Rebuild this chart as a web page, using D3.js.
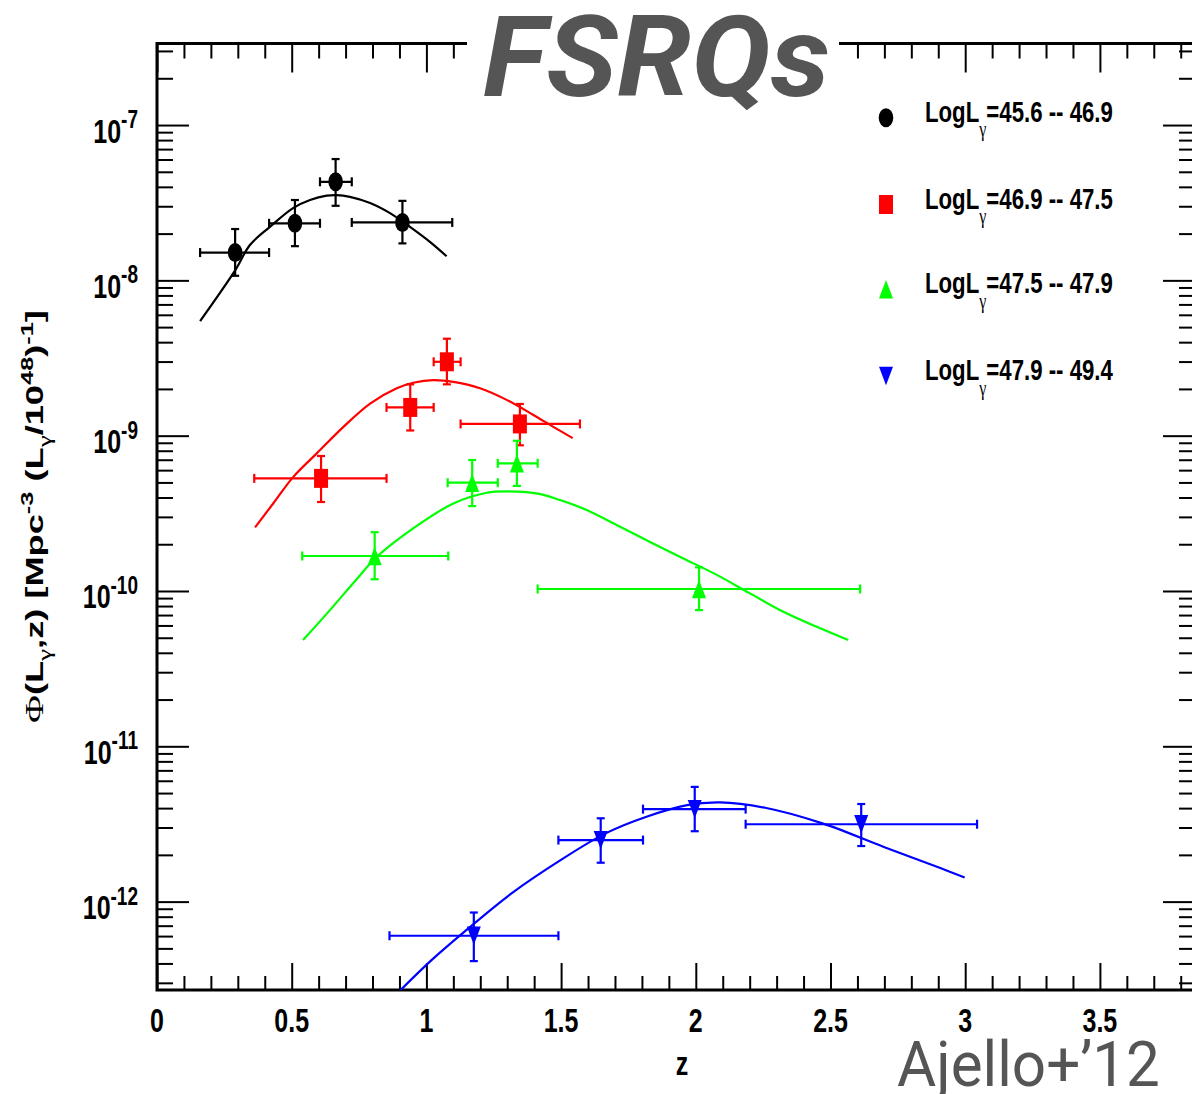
<!DOCTYPE html>
<html><head><meta charset="utf-8">
<script src="https://cdn.jsdelivr.net/npm/d3@7"></script>
<style>
html,body{margin:0;padding:0;background:#fff;overflow:hidden}
svg{display:block}
</style></head><body>
<script>
// FSRQ luminosity function Φ(Lγ, z) versus redshift, in four luminosity bins.

const binLabels  = ["=45.6 -- 46.9", "=46.9 -- 47.5", "=47.5 -- 47.9", "=47.9 -- 49.4"];
const binColors  = ["#000000", "#ff0000", "#00ff00", "#0000ff"];
const binMarkers = ["circle", "square", "triangleUp", "triangleDown"];

// measured bins: [z, zLow, zHigh, Φ, ΦLow, ΦHigh]
const pointsBin1 = [
  [0.290, 0.160, 0.416, 1.51e-8, 1.07e-8, 2.14e-8],
  [0.512, 0.416, 0.605, 2.33e-8, 1.66e-8, 3.29e-8],
  [0.663, 0.605, 0.723, 4.31e-8, 3.02e-8, 6.04e-8],
  [0.911, 0.723, 1.096, 2.36e-8, 1.73e-8, 3.25e-8]
];
const pointsBin2 = [
  [0.609, 0.361, 0.852, 5.31e-10, 3.74e-10, 7.40e-10],
  [0.940, 0.852, 1.027, 1.52e-9, 1.08e-9, 2.14e-9],
  [1.076, 1.027, 1.127, 2.99e-9, 2.14e-9, 4.21e-9],
  [1.347, 1.127, 1.570, 1.19e-9, 8.67e-10, 1.60e-9]
];
const pointsBin3 = [
  [0.808, 0.539, 1.081, 1.68e-10, 1.19e-10, 2.39e-10],
  [1.170, 1.079, 1.265, 4.98e-10, 3.52e-10, 6.97e-10],
  [1.336, 1.265, 1.413, 6.64e-10, 4.75e-10, 9.27e-10],
  [2.012, 1.413, 2.610, 1.03e-10, 7.53e-11, 1.42e-10]
];
const pointsBin4 = [
  [1.176, 0.863, 1.490, 6.03e-13, 4.14e-13, 8.51e-13],
  [1.647, 1.490, 1.804, 2.49e-12, 1.78e-12, 3.44e-12],
  [1.996, 1.804, 2.185, 3.94e-12, 2.84e-12, 5.48e-12],
  [2.614, 2.185, 3.044, 3.15e-12, 2.28e-12, 4.25e-12]
];

// model curves: [z, Φ]
const modelBin1 = [
  [0.160, 5.47e-9], [0.290, 1.16e-8], [0.345, 1.69e-8], [0.419, 2.21e-8],
  [0.505, 2.92e-8], [0.568, 3.29e-8], [0.630, 3.51e-8], [0.667, 3.54e-8],
  [0.716, 3.45e-8], [0.791, 3.15e-8], [0.865, 2.71e-8], [0.939, 2.21e-8],
  [1.013, 1.77e-8], [1.075, 1.43e-8]
];
const modelBin2 = [
  [0.364, 2.57e-10], [0.432, 3.67e-10], [0.506, 5.43e-10], [0.593, 7.69e-10],
  [0.692, 1.14e-9], [0.791, 1.61e-9], [0.890, 2.02e-9], [0.951, 2.19e-9],
  [1.026, 2.28e-9], [1.100, 2.22e-9], [1.199, 2.02e-9], [1.298, 1.70e-9],
  [1.397, 1.36e-9], [1.471, 1.14e-9], [1.543, 9.65e-10]
];
const modelBin3 = [
  [0.542, 4.83e-11], [0.642, 7.53e-11], [0.741, 1.19e-10], [0.816, 1.66e-10],
  [0.951, 2.53e-10], [1.100, 3.66e-10], [1.224, 4.29e-10], [1.298, 4.38e-10],
  [1.409, 4.25e-10], [1.496, 3.85e-10], [1.595, 3.32e-10], [1.706, 2.66e-10],
  [1.830, 2.07e-10], [1.954, 1.62e-10], [2.078, 1.27e-10], [2.201, 9.65e-11],
  [2.325, 7.35e-11], [2.449, 5.88e-11], [2.566, 4.83e-11]
];
const modelBin4 = [
  [0.880, 2.45e-13], [1.019, 4.20e-13], [1.148, 6.55e-13], [1.316, 1.13e-12],
  [1.498, 1.85e-12], [1.665, 2.75e-12], [1.817, 3.52e-12], [1.968, 4.18e-12],
  [2.090, 4.35e-12], [2.257, 4.02e-12], [2.470, 3.19e-12], [2.698, 2.25e-12],
  [2.910, 1.64e-12], [2.998, 1.43e-12]
];

const zMajorTicks = [0, 0.5, 1, 1.5, 2, 2.5, 3, 3.5];
const zTickLabels = ["0", "0.5", "1", "1.5", "2", "2.5", "3", "3.5"];
const phiDecades  = [-12, -11, -10, -9, -8, -7];

const allPoints = [pointsBin1, pointsBin2, pointsBin3, pointsBin4];
const allModels = [modelBin1, modelBin2, modelBin3, modelBin4];

// ---------------------------------------------------------------
const W = 1192, H = 1094;
const SANS = "'Liberation Sans', Arial, Helvetica, sans-serif";
const SERIF = "'Liberation Serif', 'Times New Roman', serif";
const SY = 1.333;   // vertical stretch of the ROOT-style lettering

const X0 = 157, X1 = 1195, Y0 = 990, Y1 = 43.5;

const svg = d3.select("body").append("svg")
  .attr("width", W).attr("height", H)
  .style("font-family", SANS);

const x = d3.scaleLinear().domain([0, 3.853]).range([X0, X1]);
const y = d3.scaleLog().domain([Math.pow(10, -12.569), Math.pow(10, -6.475)]).range([Y0, Y1]);

// tick sets
const zMinor = d3.range(1, 39).map(i => i / 10)
  .filter(v => Math.abs(v * 2 - Math.round(v * 2)) > 1e-6);
const phiMajor = phiDecades.map(d => Math.pow(10, d));
const phiMinor = [];
for (let d = -13; d <= -7; d++) {
  for (let m = 2; m <= 9; m++) {
    const v = m * Math.pow(10, d);
    if (v > y.domain()[0] && v < y.domain()[1]) phiMinor.push(v);
  }
}

function drawAxis(axis, tx, ty) {
  const g = svg.append("g").attr("transform", `translate(${tx},${ty})`).call(axis);
  g.select(".domain").remove();
  g.selectAll("text").remove();
  g.selectAll("line").attr("stroke", "#000").attr("stroke-width", 2);
  return g;
}

// bottom / top axes (ticks pointing into the frame)
drawAxis(d3.axisTop(x).tickValues(zMajorTicks).tickSize(27), 0, Y0);
drawAxis(d3.axisTop(x).tickValues(zMinor).tickSize(14), 0, Y0);
drawAxis(d3.axisBottom(x).tickValues(zMajorTicks).tickSize(29), 0, Y1);
drawAxis(d3.axisBottom(x).tickValues(zMinor).tickSize(15), 0, Y1);
// left / right axes
drawAxis(d3.axisRight(y).tickValues(phiMajor).tickSize(32), X0, 0);
drawAxis(d3.axisRight(y).tickValues(phiMinor).tickSize(16), X0, 0);
drawAxis(d3.axisLeft(y).tickValues(phiMajor).tickSize(32), X1, 0);
drawAxis(d3.axisLeft(y).tickValues(phiMinor).tickSize(16), X1, 0);

// frame
svg.append("rect")
  .attr("x", X0).attr("y", Y1).attr("width", X1 - X0).attr("height", Y0 - Y1)
  .attr("fill", "none").attr("stroke", "#000").attr("stroke-width", 3);

// rich text: segments {t, shift (down, unscaled px), k (size factor), serif, normal}
function richText(g, segs, size, anchor) {
  const t = g.append("text")
    .attr("font-size", size).attr("font-weight", "bold")
    .attr("text-anchor", anchor || "start").attr("fill", "#000");
  let cur = 0;
  segs.forEach(s => {
    const off = s.shift || 0;
    const ts = t.append("tspan").text(s.t).attr("dy", off - cur);
    cur = off;
    if (s.k) ts.attr("font-size", size * s.k);
    if (s.serif) ts.attr("font-family", SERIF);
    if (s.normal) ts.attr("font-weight", "normal");
  });
  return t;
}

// x tick labels
zMajorTicks.forEach((v, i) => {
  const g = svg.append("g").attr("transform", `translate(${x(v)},${Y0 + 42}) scale(1,${SY})`);
  richText(g, [{ t: zTickLabels[i] }], 25, "middle");
});
// y tick labels 10^n
phiDecades.forEach(d => {
  const g = svg.append("g").attr("transform", `translate(138,${y(Math.pow(10, d))}) scale(1,${SY})`);
  richText(g, [{ t: "10", shift: 13.1 }, { t: String(d), shift: 2.2, k: 0.76 }], 25, "end");
});

// axis titles
{
  const g = svg.append("g").attr("transform", `translate(682,1075) scale(1,${SY})`);
  richText(g, [{ t: "z" }], 25, "middle");
}
function fitGroup(g, textSel, target, transformFn) {
  const w = textSel.node().getBBox().width;
  g.attr("transform", transformFn(target / w));
}
{
  const g = svg.append("g");
  const t = richText(g, [
    { t: "Φ", serif: true, normal: true, k: 1.05 },
    { t: "(L" },
    { t: "γ", serif: true, normal: true, k: 0.75, shift: 8 },
    { t: ",z) [Mpc" },
    { t: "-3", k: 0.7, shift: -10 },
    { t: "\u00a0(L" },
    { t: "γ", serif: true, normal: true, k: 0.75, shift: 8 },
    { t: "/10" },
    { t: "48", k: 0.7, shift: -10 },
    { t: ")" },
    { t: "-1", k: 0.7, shift: -10 },
    { t: "]" }
  ], 24, "middle");
  fitGroup(g, t, 413, s => `translate(43,516.5) rotate(-90) scale(${s},1)`);
}

// clip region for the model curves
svg.append("clipPath").attr("id", "frameClip")
  .append("rect").attr("x", X0).attr("y", Y1).attr("width", X1 - X0).attr("height", Y0 - Y1);

const line = d3.line()
  .x(d => x(d[0])).y(d => y(d[1]))
  .curve(d3.curveCatmullRom.alpha(0.5));

const plot = svg.append("g");
allModels.forEach((m, i) => {
  plot.append("path").datum(m)
    .attr("d", line)
    .attr("fill", "none")
    .attr("stroke", binColors[i])
    .attr("stroke-width", 2.2)
    .attr("clip-path", "url(#frameClip)");
});

// marker shapes
function marker(g, type, cx, cy, color) {
  const hw = 7, hh = 9.5;
  if (type === "circle") {
    g.append("ellipse").attr("cx", cx).attr("cy", cy).attr("rx", hw + 0.3).attr("ry", hh).attr("fill", color);
  } else if (type === "square") {
    g.append("rect").attr("x", cx - hw).attr("y", cy - hh).attr("width", 2 * hw).attr("height", 2 * hh).attr("fill", color);
  } else if (type === "triangleUp") {
    g.append("path").attr("d", `M${cx - hw},${cy + 9.2}L${cx + hw},${cy + 9.2}L${cx},${cy - 9.2}Z`).attr("fill", color);
  } else {
    g.append("path").attr("d", `M${cx - hw},${cy - 9.2}L${cx + hw},${cy - 9.2}L${cx},${cy + 9.2}Z`).attr("fill", color);
  }
}

// error bars and markers
allPoints.forEach((pts, i) => {
  const col = binColors[i];
  const g = plot.append("g").attr("stroke", col).attr("stroke-width", 2.2);
  pts.forEach(p => {
    const cx = x(p[0]), cy = y(p[3]);
    const xl = x(p[1]), xh = x(p[2]);
    const yl = y(p[4]), yh = y(p[5]);
    g.append("line").attr("x1", xl).attr("x2", xh).attr("y1", cy).attr("y2", cy);
    g.append("line").attr("x1", xl).attr("x2", xl).attr("y1", cy - 4.5).attr("y2", cy + 4.5);
    g.append("line").attr("x1", xh).attr("x2", xh).attr("y1", cy - 4.5).attr("y2", cy + 4.5);
    g.append("line").attr("x1", cx).attr("x2", cx).attr("y1", yl).attr("y2", yh);
    g.append("line").attr("x1", cx - 4).attr("x2", cx + 4).attr("y1", yl).attr("y2", yl);
    g.append("line").attr("x1", cx - 4).attr("x2", cx + 4).attr("y1", yh).attr("y2", yh);
  });
  const mg = plot.append("g").attr("stroke", "none");
  pts.forEach(p => marker(mg, binMarkers[i], x(p[0]), y(p[3]), col));
});

// legend
const legendBaselines = [121.7, 208.5, 293.3, 380];
binLabels.forEach((lab, i) => {
  const yb = legendBaselines[i];
  marker(svg.append("g"), binMarkers[i], 886, yb - 4, binColors[i]);
  const g = svg.append("g");
  const t = richText(g, [
    { t: "LogL" },
    { t: "γ", serif: true, normal: true, k: 0.72, shift: 11 },
    { t: lab }
  ], 21.5, "start");
  fitGroup(g, t, 188, s => `translate(925,${yb}) scale(${s},${SY})`);
});

// headline box over the top of the frame
svg.append("rect").attr("x", 467).attr("y", 0).attr("width", 372).attr("height", 100).attr("fill", "#fff");
{
  const g = svg.append("g");
  const t = g.append("text").text("FSRQs")
    .attr("font-family", "Roboto, 'Open Sans', sans-serif")
    .attr("font-weight", "bold").attr("font-style", "italic")
    .attr("font-size", 112).attr("fill", "#555").attr("text-anchor", "middle");
  fitGroup(g, t, 347, s => `translate(656.5,96) scale(${s},1)`);
}
{
  const g = svg.append("g");
  const t = g.append("text").text("Ajello+\u201912")
    .attr("font-family", "Roboto, 'Open Sans', sans-serif")
    .attr("font-weight", "normal")
    .attr("font-size", 63).attr("fill", "#555").attr("text-anchor", "start");
  fitGroup(g, t, 263, s => `translate(897,1086) scale(${s},1)`);
}
</script>
</body></html>
